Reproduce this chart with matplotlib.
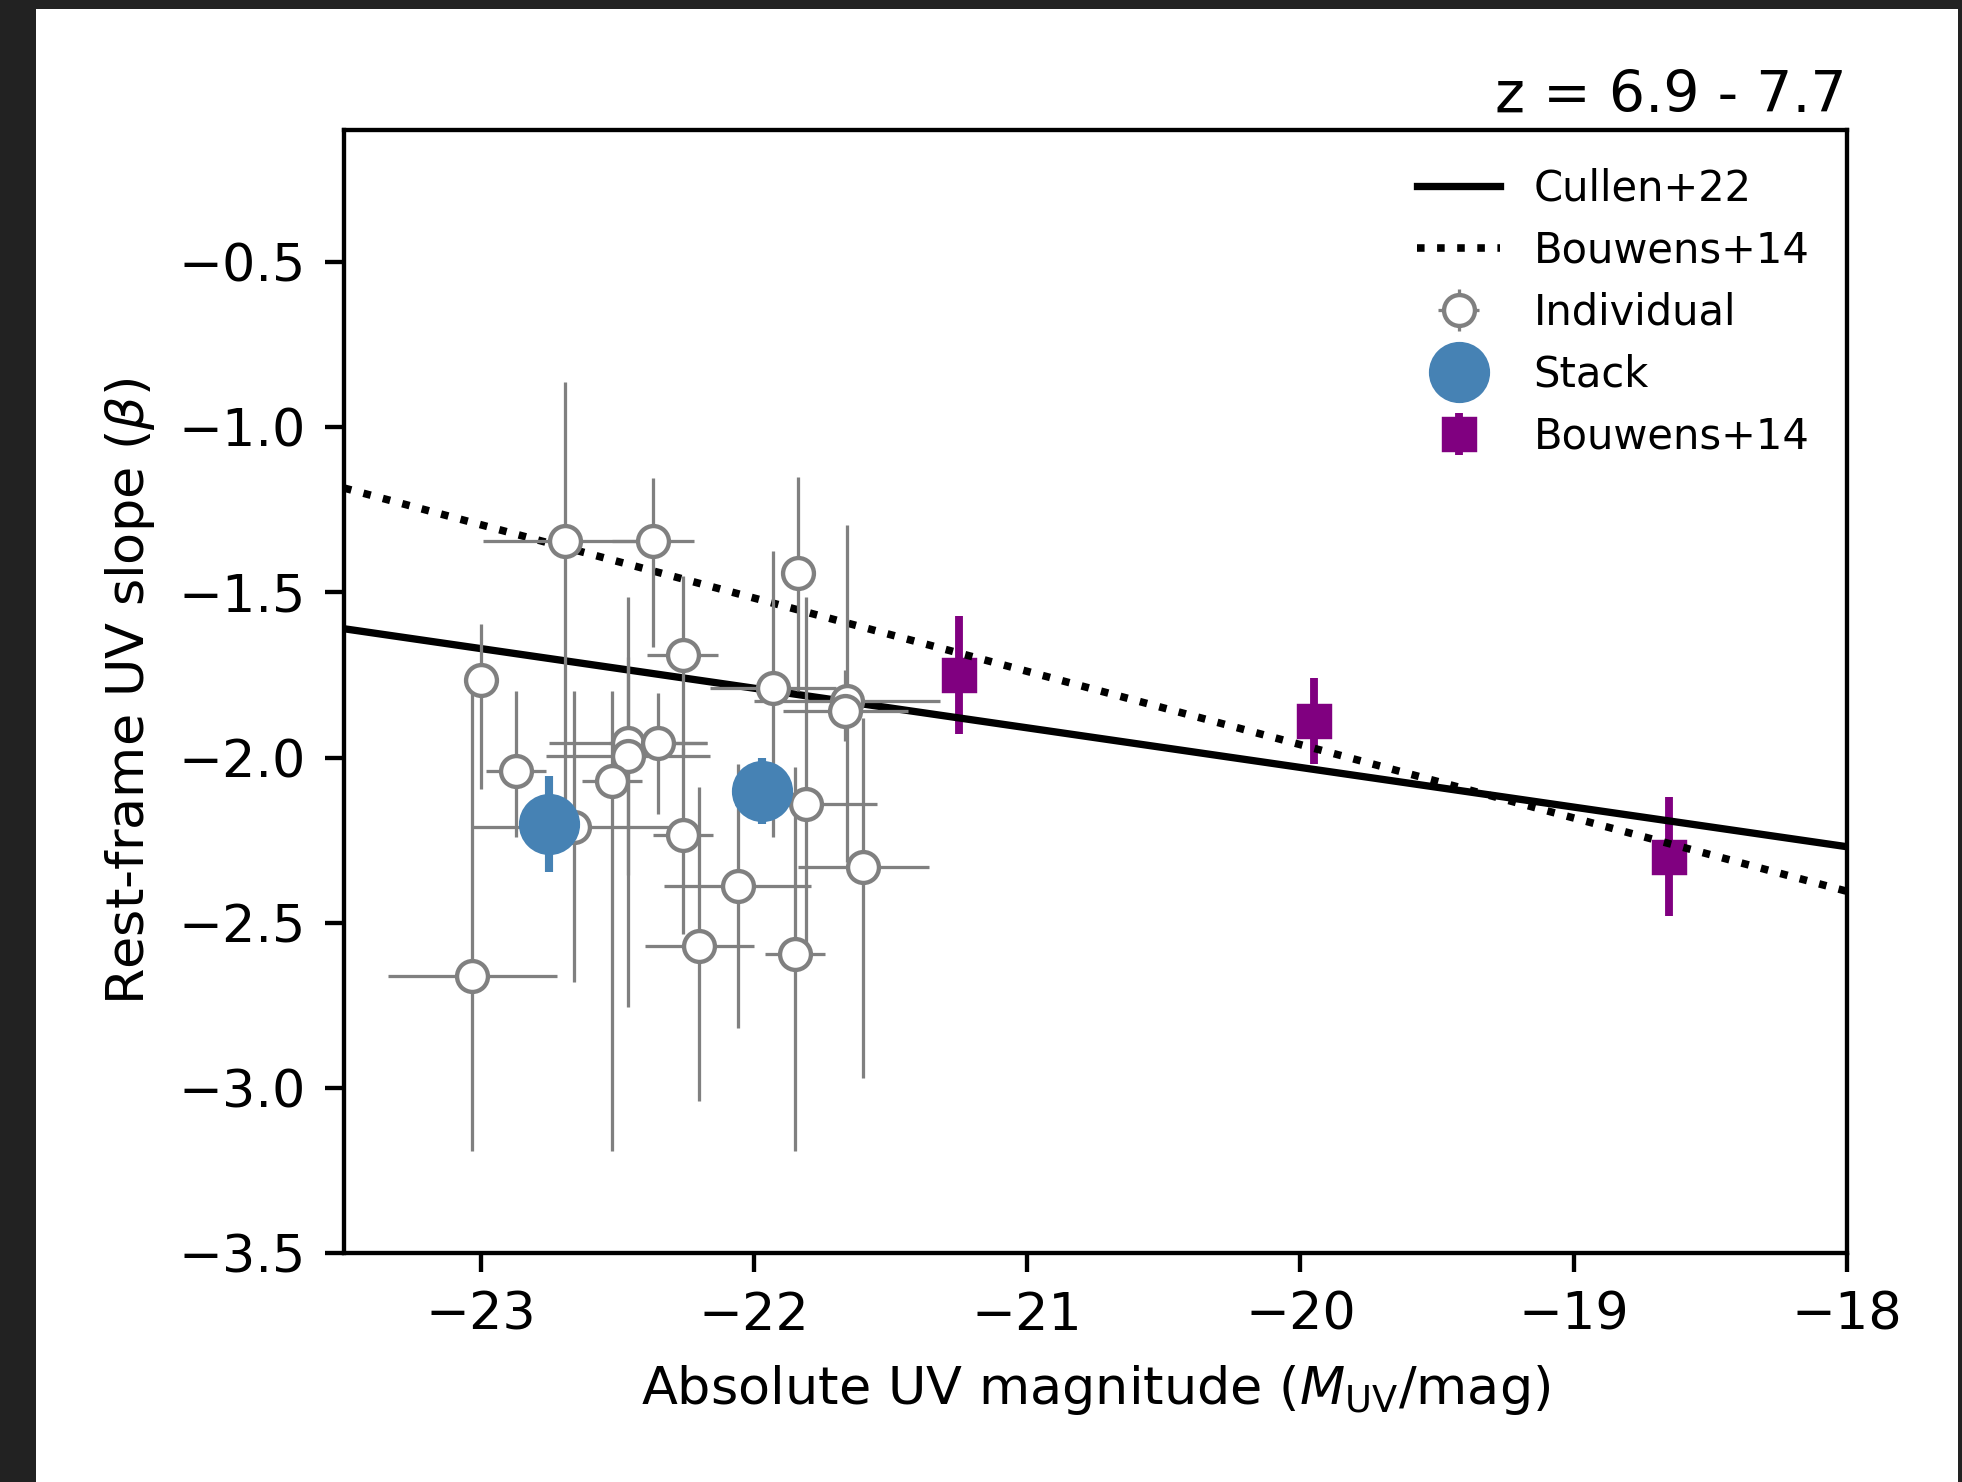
import matplotlib
matplotlib.use('Agg')
import matplotlib.pyplot as plt
from matplotlib.patches import Rectangle

# individual galaxies: M_UV, beta, errors
ind_muv = [-23.00, -22.87, -22.69, -22.37, -21.84, -22.26, -21.93, -21.66, -21.665,
           -22.46, -22.46, -22.35, -22.52, -22.66, -22.26, -21.81, -21.60, -22.06,
           -22.20, -21.85, -23.03]
ind_beta = [-1.765, -2.04, -1.344, -1.344, -1.44, -1.69, -1.79, -1.83, -1.86,
            -1.955, -1.995, -1.955, -2.07, -2.21, -2.235, -2.14, -2.33, -2.39,
            -2.57, -2.595, -2.66]
ind_muv_err = [0.0, 0.11, 0.30, 0.15, 0.0, 0.13, 0.23, 0.34, 0.23,
               0.29, 0.30, 0.18, 0.11, 0.37, 0.11, 0.26, 0.24, 0.27,
               0.20, 0.11, 0.31]
ind_beta_lo = [0.33, 0.20, 0.83, 0.32, 0.36, 0.30, 0.45, 0.485, 0.09,
               0.40, 0.76, 0.215, 1.12, 0.47, 0.30, 0.42, 0.64, 0.43,
               0.47, 0.595, 0.53]
ind_beta_hi = [0.17, 0.24, 0.48, 0.19, 0.29, 0.24, 0.415, 0.535, 0.125,
               0.44, 0.30, 0.15, 0.27, 0.41, 0.265, 0.625, 0.45, 0.37,
               0.48, 0.565, 0.86]

# stacks
stack_muv = [-22.75, -21.97]
stack_beta = [-2.20, -2.10]
stack_beta_err = [0.145, 0.10]

# Bouwens+14 binned points
b14_muv = [-21.25, -19.95, -18.65]
b14_beta = [-1.75, -1.89, -2.30]
b14_err = [0.18, 0.13, 0.18]

# relations
cullen_muv = [-23.5, -18.0]
cullen_beta = [-1.61, -2.27]
b14_line_muv = [-23.5, -18.0]
b14_line_beta = [-1.184, -2.405]

DPI = 390
fig = plt.figure(figsize=(1962.01 / DPI, 1482.01 / DPI), dpi=DPI, facecolor='#222222')
fig.add_artist(Rectangle((36 / 1962, 0), (1958 - 36) / 1962, (1482 - 9) / 1482,
                         transform=fig.transFigure, facecolor='white',
                         edgecolor='none', zorder=-1))
ax = fig.add_axes([344 / 1962, 1 - 1253 / 1482, (1847 - 344) / 1962, (1253 - 130) / 1482])

b14_pts = ax.errorbar(b14_muv, b14_beta, yerr=b14_err, fmt='s', color='purple',
                      ms=5.7, elinewidth=1.45, capsize=0, label='Bouwens+14', zorder=2)
l1, = ax.plot(cullen_muv, cullen_beta, '-', color='k', lw=1.35, label='Cullen+22', zorder=3)
l2, = ax.plot(b14_line_muv, b14_line_beta, ':', color='k', lw=1.4, label='Bouwens+14', zorder=3)
ind = ax.errorbar(ind_muv, ind_beta, xerr=ind_muv_err, yerr=[ind_beta_lo, ind_beta_hi],
                  fmt='o', color='grey', mfc='white', mec='grey', ms=5.7, mew=0.8,
                  elinewidth=0.6, capsize=0, label='Individual', zorder=4)
stk = ax.errorbar(stack_muv, stack_beta, yerr=stack_beta_err, fmt='o', color='steelblue',
                  ms=10.3, elinewidth=1.5, capsize=0, label='Stack', zorder=5)

ax.set_xlim(-23.5, -18)
ax.set_ylim(-3.5, -0.1)
ax.set_xticks([-23, -22, -21, -20, -19, -18])
ax.set_yticks([-3.5, -3.0, -2.5, -2.0, -1.5, -1.0, -0.5])
ax.tick_params(labelsize=9.7)
ax.set_xlabel('Absolute UV magnitude ($M_{\\rm UV}$/mag)', fontsize=9.7)
ax.set_ylabel('Rest-frame UV slope ($\\beta$)', fontsize=9.7)
ax.set_title('z = 6.9 - 7.7', loc='right', fontsize=10.5, pad=3.3)

ax.legend(handles=[l1, l2, ind, stk, b14_pts], loc='upper right', frameon=False,
          fontsize=7.7, labelspacing=0.48)

fig.savefig('out.png', dpi=DPI, facecolor=fig.get_facecolor())
